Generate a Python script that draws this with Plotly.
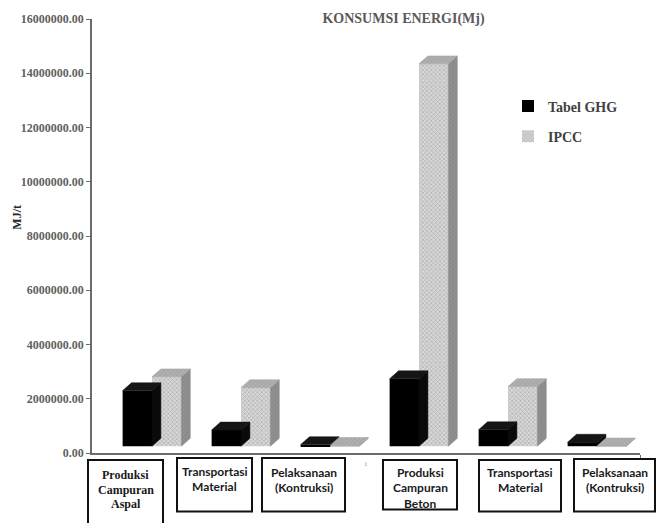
import plotly.graph_objects as go

# ---- data -------------------------------------------------------------
category_lines = [
    ["Produksi", "Campuran", "Aspal"],
    ["Transportasi", "Material"],
    ["Pelaksanaan", "(Kontruksi)"],
    ["Produksi", "Campuran", "Beton"],
    ["Transportasi", "Material"],
    ["Pelaksanaan", "(Kontruksi)"],
]
tabel_ghg = [2050000, 600000, 60000, 2490000, 610000, 150000]
ipcc = [2560000, 2160000, 30000, 14100000, 2200000, 10000]
y_tick_values = [0, 2000000, 4000000, 6000000, 8000000, 10000000,
                 12000000, 14000000, 16000000]

# ---- canvas geometry (pixels) -----------------------------------------
W, H = 661, 523
PLOT_L, PLOT_R, PLOT_T, PLOT_B = 92, 640, 16, 453
CAT_PX0, CAT_STEP = 152, 89          # pixel centre of first group, spacing


def paper_x(px):
    return (px - PLOT_L) / (PLOT_R - PLOT_L)


def paper_y(py):
    return (PLOT_B - py) / (PLOT_B - PLOT_T)


x_range = [(PLOT_L - CAT_PX0) / CAT_STEP, (PLOT_R - CAT_PX0) / CAT_STEP]

# pseudo-3D projection of the columns
BAR_W = 0.33          # width of one column, category units
DEPTH_X = 0.10        # receding offset, category units
DEPTH_Y = 290000      # receding offset, value units
FLOOR_LIFT = 250000   # columns stand back from the front edge of the floor

SERIF = "Liberation Serif"
SANS = "Lato"

fig = go.Figure()


def add_series(name, values, x_shift, front, top, side):
    xs = [i + x_shift for i in range(len(values))]
    fig.add_trace(go.Bar(
        x=xs, y=values, base=FLOOR_LIFT, width=BAR_W, name=name,
        legendgroup=name, marker=front, showlegend=True,
    ))
    tx, ty, sx, sy = [], [], [], []
    for x, v in zip(xs, values):
        x0, x1 = x - BAR_W / 2, x + BAR_W / 2
        t = FLOOR_LIFT + v
        tx += [x0, x1, x1 + DEPTH_X, x0 + DEPTH_X, x0, None]
        ty += [t, t, t + DEPTH_Y, t + DEPTH_Y, t, None]
        sx += [x1, x1, x1 + DEPTH_X, x1 + DEPTH_X, x1, None]
        sy += [FLOOR_LIFT, t, t + DEPTH_Y, FLOOR_LIFT + DEPTH_Y, FLOOR_LIFT, None]
    fig.add_trace(go.Scatter(x=sx, y=sy, mode="lines", fill="toself",
                             legendgroup=name, showlegend=False, hoverinfo="skip",
                             line=dict(width=0.5, color=side["line"]),
                             fillcolor=side["fill"], fillpattern=side.get("pattern")))
    fig.add_trace(go.Scatter(x=tx, y=ty, mode="lines", fill="toself",
                             legendgroup=name, showlegend=False, hoverinfo="skip",
                             line=dict(width=0.5, color=top["line"]),
                             fillcolor=top["fill"], fillpattern=top.get("pattern")))


add_series(
    "Tabel GHG", tabel_ghg, -BAR_W / 2,
    front=dict(color="#000000", line=dict(width=0)),
    top=dict(fill="#151515", line="#151515"),
    side=dict(fill="#0a0a0a", line="#0a0a0a"),
)
add_series(
    "IPCC", ipcc, BAR_W / 2,
    front=dict(color="#d0d0d0", line=dict(width=0),
               pattern=dict(shape="x", fgcolor="#858585", bgcolor="#d8d8d8",
                            size=3, solidity=0.4)),
    top=dict(fill="#a5a5a5", line="#a0a0a0",
             pattern=dict(shape="x", fgcolor="#888888", bgcolor="#b0b0b0",
                          size=3, solidity=0.3)),
    side=dict(fill="#8a8a8a", line="#858585",
              pattern=dict(shape="x", fgcolor="#6e6e6e", bgcolor="#919191",
                           size=3, solidity=0.3)),
)

# ---- category boxes under the axis ------------------------------------
box_px = [(88, 163, 460, 535), (177, 252, 458, 512), (262, 345, 458, 512),
          (383, 457, 460, 510), (479, 561, 460, 512), (574, 655, 459, 512)]
line_px = [[475, 490, 504], [472, 487], [473, 488],
           [473, 488, 504], [473, 488], [473, 488]]
shapes = []
annotations = []
for k, (lines, (bx0, bx1, by0, by1)) in enumerate(zip(category_lines, box_px)):
    shapes.append(dict(type="rect", xref="paper", yref="paper",
                       x0=paper_x(bx0), x1=paper_x(bx1),
                       y0=paper_y(by1), y1=paper_y(by0),
                       line=dict(color="#111111", width=2)))
    fam = SERIF if k == 0 else SANS
    for txt, ly in zip(lines, line_px[k]):
        annotations.append(dict(
            text=txt, xref="paper", yref="paper",
            x=paper_x((bx0 + bx1) / 2), y=paper_y(ly),
            xanchor="center", yanchor="middle", showarrow=False,
            font=dict(family=fam, size=12, color="#1a1a1a", weight="bold"),
        ))

annotations.append(dict(
    text="MJ/t", xref="paper", yref="paper", x=paper_x(17), y=paper_y(216),
    textangle=-90, showarrow=False, xanchor="center", yanchor="middle",
    font=dict(family=SERIF, size=12, color="#262626", weight="bold"),
))
annotations.append(dict(
    text="1", xref="paper", yref="paper", x=paper_x(366), y=paper_y(464),
    showarrow=False, xanchor="center", yanchor="middle",
    font=dict(family=SERIF, size=7, color="#9a9a9a"),
))

fig.update_layout(
    width=W, height=H,
    margin=dict(l=PLOT_L, r=W - PLOT_R, t=PLOT_T, b=H - PLOT_B, pad=0),
    paper_bgcolor="white", plot_bgcolor="white",
    barmode="overlay",
    title=dict(text="KONSUMSI ENERGI(Mj)", x=403.5 / W, xref="container",
               xanchor="center", y=1 - 18 / H, yref="container", yanchor="middle",
               font=dict(family=SERIF, size=14, color="#595959", weight="bold")),
    legend=dict(x=paper_x(508), y=paper_y(88), xanchor="left", yanchor="top",
                bgcolor="rgba(0,0,0,0)", tracegroupgap=9, itemwidth=30,
                font=dict(family=SERIF, size=14, color="#404040", weight="bold")),
    shapes=shapes, annotations=annotations,
    xaxis=dict(range=x_range, showgrid=False, zeroline=False, showline=True,
               linecolor="#6b6b6b", linewidth=1.5, showticklabels=False,
               tickvals=[x_range[1]], ticks="outside", ticklen=3,
               tickcolor="#6b6b6b", fixedrange=True),
    yaxis=dict(range=[0, 16000000], tickvals=y_tick_values, tickformat=".2f",
               showgrid=False, zeroline=False, showline=True,
               linecolor="#6b6b6b", linewidth=1.5, ticks="outside", ticklen=4,
               tickcolor="#6b6b6b",
               tickfont=dict(family=SERIF, size=12, color="#5f5f5f", weight="bold"),
               fixedrange=True),
    showlegend=True,
)

fig.write_html("out.html")
